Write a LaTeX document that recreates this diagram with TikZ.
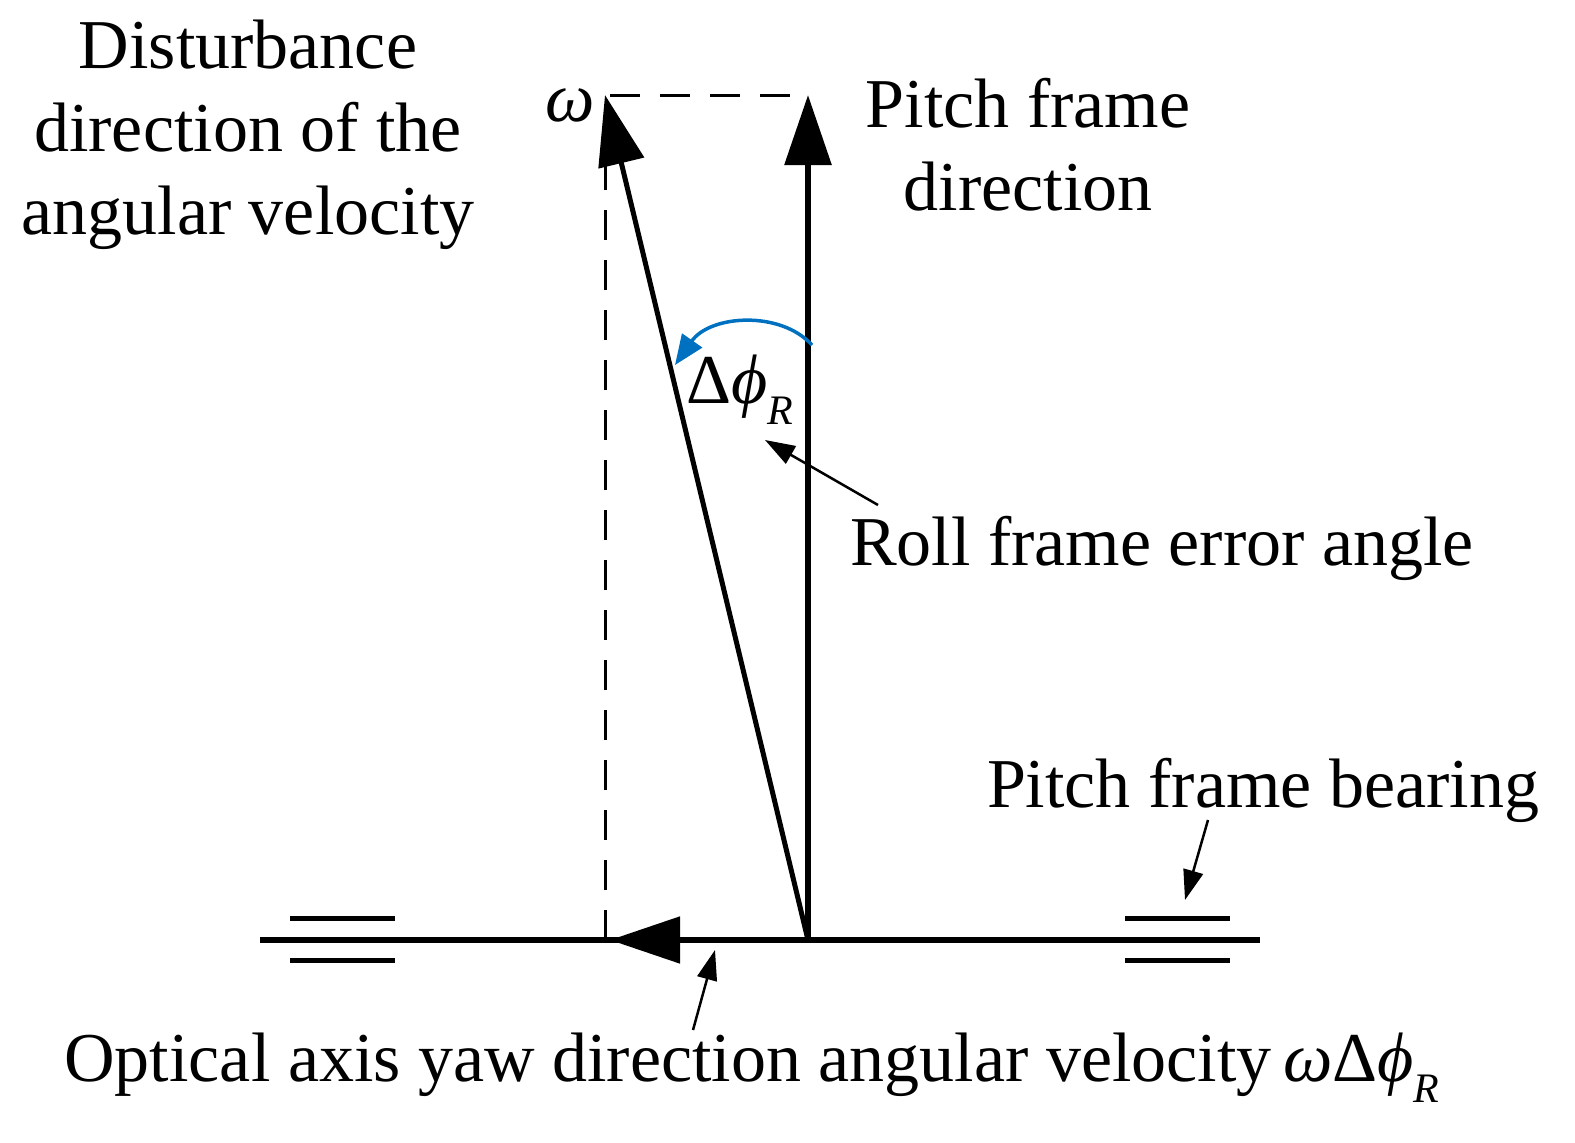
\documentclass[tikz,border=0pt]{standalone}
\usepackage{fontspec}
\setmainfont{Liberation Serif}
\usetikzlibrary{arrows.meta}
\begin{document}
\begin{tikzpicture}[x=1pt,y=-1pt,
  txt/.style={font=\fontsize{70}{83}\selectfont,align=center,inner sep=0},
  thick6/.style={line width=6pt},
  big/.style={-{Triangle[length=70pt,width=46pt]}},
  small/.style={line width=2.5pt,-{Triangle[length=30pt,width=20pt]}}]
\useasboundingbox (0,0) rectangle (1575,1143);
\coordinate (O) at (808,940);
\coordinate (L) at (260,940);
\coordinate (R) at (1260,940);
\coordinate (T) at (808,95);
\coordinate (W) at (605,95);
\coordinate (WB) at (605,940);
\coordinate (H) at (610,940);
\draw[thick6] (L) -- (R);
\foreach \x in {290,1125}{
  \draw[line width=5pt] (\x,918) -- ++(105,0);
  \draw[line width=5pt] (\x,960) -- ++(105,0);}
\draw[line width=3pt,dash pattern=on 30pt off 20pt] (WB) -- (W) -- (T);
\draw[thick6,big] (O) -- (T);
\draw[line width=5pt,big] (O) -- (W);
\draw[line width=5pt,big] (O) -- (H);
\draw[line width=3.5pt,color={rgb,255:red,0;green,112;blue,192},-{Triangle[length=30pt,width=24pt]}]
  (812,345) .. controls (780,310) and (710,315) .. (675,365);
\node[txt] (omega) at (570,105) {\textit{ω}};
\node[txt] (dist) at (248,135) {Disturbance\\direction of the\\angular velocity};
\node[txt] (pitch) at (1028,145) {Pitch frame\\direction};
\node[txt,anchor=west] (dphi) at (686,390) {Δ\textit{ϕ}\raisebox{-0.3em}{\fontsize{42}{42}\selectfont\textit{R}}};
\node[txt] (roll) at (1162,548) {Roll frame error angle};
\node[txt] (bear) at (1263,790) {Pitch frame bearing};
\node[txt] (opt) at (752,1068) {Optical axis yaw direction angular velocity\,\textit{ω}Δ\textit{ϕ}\raisebox{-0.3em}{\fontsize{42}{42}\selectfont\textit{R}}};
\coordinate (r1) at (878,505); \coordinate (r2) at (765,440);
\coordinate (o1) at (693,1030); \coordinate (o2) at (715,950);
\coordinate (b1) at (1208,820); \coordinate (b2) at (1185,900);
\draw[small] (r1) -- (r2);
\draw[small] (o1) -- (o2);
\draw[small] (b1) -- (b2);
\end{tikzpicture}
\end{document}
